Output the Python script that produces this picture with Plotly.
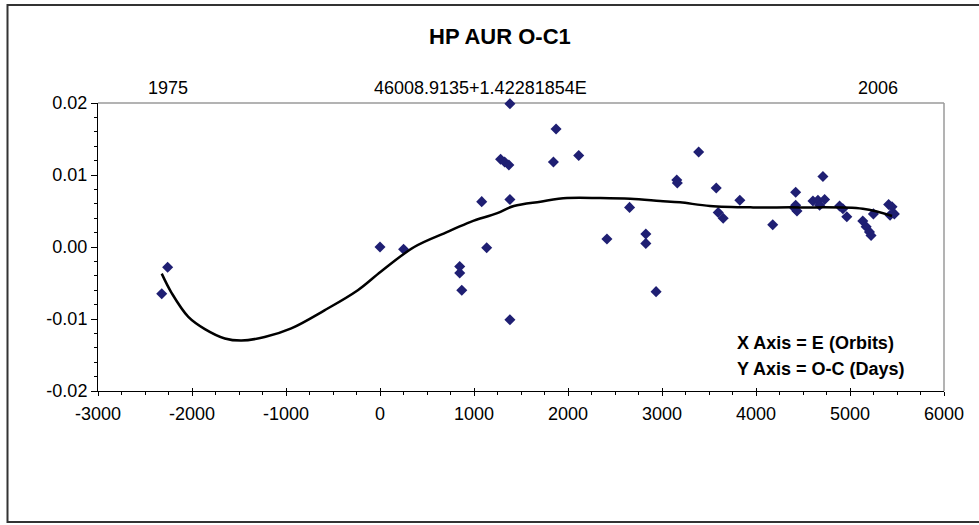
import plotly.graph_objects as go

# Observed O-C points (E in orbits, O-C in days)
obs_e = [-2322, -2259, 0, 251, 848, 848, 870, 1082, 1135, 1283, 1326, 1371, 1382, 1382, 1382,
         1845, 1873, 2114, 2414, 2655, 2828, 2828, 2937, 3157, 3163, 3390, 3577, 3598, 3651,
         3828, 4178, 4411, 4422, 4422, 4436, 4606, 4659, 4677, 4712, 4730, 4889, 4924, 4966,
         5136, 5172, 5207, 5224, 5249, 5411, 5426, 5447, 5472]
obs_oc = [-0.0065, -0.0028, 0.0000, -0.0003, -0.0027, -0.0036, -0.0060, 0.0063, -0.0001, 0.0122,
          0.0118, 0.0114, 0.0199, 0.0066, -0.0101, 0.0118, 0.0164, 0.0127, 0.0011, 0.0055,
          0.0018, 0.0005, -0.0062, 0.0093, 0.0089, 0.0132, 0.0082, 0.0048, 0.0040, 0.0065,
          0.0031, 0.0054, 0.0076, 0.0058, 0.0050, 0.0064, 0.0065, 0.0058, 0.0098, 0.0066,
          0.0057, 0.0053, 0.0042, 0.0036, 0.0028, 0.0021, 0.0016, 0.0046, 0.0059, 0.0044,
          0.0056, 0.0046]

# Trend curve
fit_e = [-2322, -2216, -2039, -1863, -1651, -1474, -1227, -944, -591, -236, 11, 364, 718, 965,
         1248, 1424, 1707, 1990, 2344, 2662, 2980, 3192, 3510, 3969, 4464, 5136, 5447]
fit_oc = [-0.0037, -0.0064, -0.0097, -0.0114, -0.0127, -0.0130, -0.0125, -0.0113, -0.0088,
          -0.0060, -0.0034, 0.0000, 0.0021, 0.0035, 0.0047, 0.0057, 0.0063, 0.0068, 0.0068,
          0.0067, 0.0064, 0.0062, 0.0057, 0.0055, 0.0055, 0.0053, 0.0043]

x_ticks = [-3000, -2000, -1000, 0, 1000, 2000, 3000, 4000, 5000, 6000]
y_ticks = [-0.02, -0.01, 0.0, 0.01, 0.02]
y_tick_text = ["-0.02", "-0.01", "0.00", "0.01", "0.02"]

FONT = "Liberation Sans, Arial, sans-serif"
L, R, T, B = 98, 944, 103, 391
W, H = R - L, B - T


def px(x):
    return (x - L) / W


def py(y):
    return (B - y) / H


fig = go.Figure()
fig.add_trace(go.Scatter(x=obs_e, y=obs_oc, mode="markers", cliponaxis=False,
                         marker=dict(symbol="diamond", size=8.5, color="#1F1F73",
                                     line=dict(width=0)),
                         showlegend=False, hoverinfo="x+y"))
fig.add_trace(go.Scatter(x=fit_e, y=fit_oc, mode="lines",
                         line=dict(color="black", width=2.5, shape="spline", smoothing=1.0),
                         showlegend=False, hoverinfo="skip"))
# invisible trace on overlay axis so major x ticks appear to cross the axis line
fig.add_trace(go.Scatter(x=[-3000], y=[-0.02], xaxis="x2", mode="markers",
                         marker=dict(opacity=0), showlegend=False, hoverinfo="skip"))

fig.update_layout(
    width=979, height=525,
    margin=dict(l=L, r=979 - R, t=T, b=525 - B),
    paper_bgcolor="white", plot_bgcolor="white",
    font=dict(family=FONT, size=18, color="black"),
    xaxis=dict(range=[-3000, 6000], tickvals=x_ticks, ticktext=[str(v) for v in x_ticks],
               ticks="outside", ticklen=4, tickwidth=1, tickcolor="black",
               showline=True, linecolor="black", linewidth=1, showgrid=False, zeroline=False,
               minor=dict(dtick=250, tick0=0, ticks="outside", ticklen=3, tickcolor="black"),
               tickfont=dict(size=18), ticklabelstandoff=2, fixedrange=True),
    xaxis2=dict(range=[-3000, 6000], overlaying="x", tickvals=x_ticks, showticklabels=False,
                ticks="inside", ticklen=3, tickwidth=1, tickcolor="black", side="bottom",
                showline=False, showgrid=False, zeroline=False, anchor="y"),
    yaxis=dict(range=[-0.02, 0.02], tickvals=y_ticks, ticktext=y_tick_text,
               ticks="outside", ticklen=6, tickwidth=1, tickcolor="black",
               showline=True, linecolor="black", linewidth=1, showgrid=False, zeroline=False,
               minor=dict(dtick=0.002, tick0=0, ticks="outside", ticklen=3, tickcolor="black"),
               tickfont=dict(size=18), fixedrange=True),
    shapes=[
        dict(type="line", xref="paper", yref="paper", x0=0, x1=1, y0=1, y1=1,
             line=dict(color="#9a9a9a", width=1.5), layer="below"),
        dict(type="line", xref="paper", yref="paper", x0=1, x1=1, y0=0, y1=1,
             line=dict(color="#9a9a9a", width=1.5), layer="below"),
        dict(type="rect", xref="paper", yref="paper",
             x0=px(7.5), x1=px(990), y0=py(522), y1=py(5),
             line=dict(color="#333333", width=2), fillcolor="rgba(0,0,0,0)", layer="below"),
    ],
    annotations=[
        dict(text="<b>HP AUR O-C1</b>", xref="paper", yref="paper",
             x=px(500), y=py(37), showarrow=False,
             font=dict(size=22, family=FONT), xanchor="center", yanchor="middle"),
        dict(text="1975", xref="paper", yref="paper", x=px(168), y=py(88),
             showarrow=False, xanchor="center", yanchor="middle", font=dict(size=18)),
        dict(text="46008.9135+1.42281854E", xref="paper", yref="paper",
             x=px(480), y=py(88),
             showarrow=False, xanchor="center", yanchor="middle", font=dict(size=18)),
        dict(text="2006", xref="paper", yref="paper", x=px(878), y=py(88),
             showarrow=False, xanchor="center", yanchor="middle", font=dict(size=18)),
        dict(text="<b>X Axis = E (Orbits)</b>", xref="paper", yref="paper",
             x=px(735), y=py(343), showarrow=False,
             xanchor="left", yanchor="middle", font=dict(size=18)),
        dict(text="<b>Y Axis = O-C (Days)</b>", xref="paper", yref="paper",
             x=px(735), y=py(369), showarrow=False,
             xanchor="left", yanchor="middle", font=dict(size=18)),
    ],
)

fig.write_html("out.html", config={"displayModeBar": False},
               post_script="document.body.style.margin='0';")
